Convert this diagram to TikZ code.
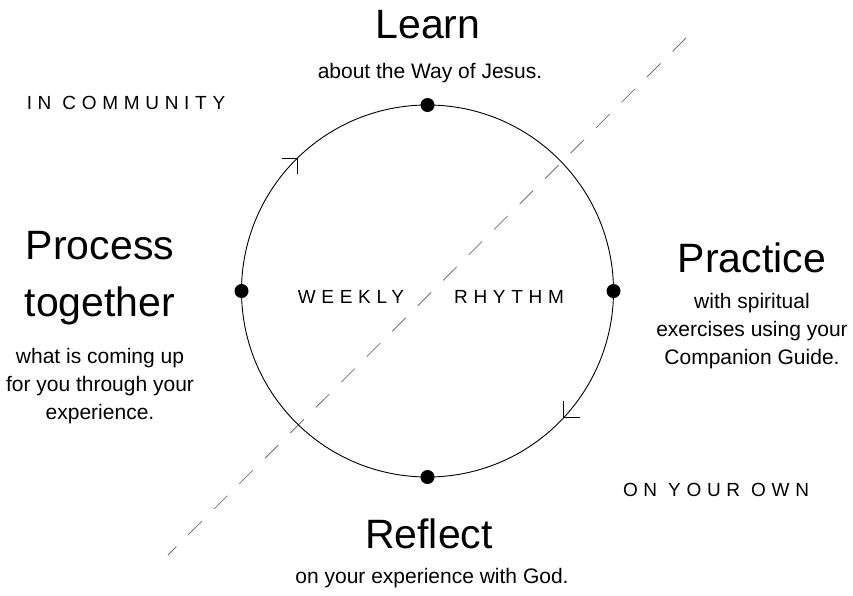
\documentclass[tikz,border=0pt]{standalone}
\usepackage{fontspec}
\setmainfont{Liberation Sans}
\newfontfamily\spacedfont[LetterSpace=30]{Liberation Sans}
\begin{document}
\begin{tikzpicture}[x=1pt,y=-1pt,
  head/.style={font=\fontsize{41}{46}\selectfont, inner sep=0pt, align=center},
  body/.style={font=\fontsize{21}{28}\selectfont, inner sep=0pt, align=center},
  caps/.style={font=\fontsize{19}{22}\spacedfont, inner sep=0pt},
  dot/.style={circle, fill=black, minimum size=14pt, inner sep=0pt},
  chev/.style={draw=black, line width=0.8pt},
  dashline/.style={draw=black!55, line width=0.8pt, dash pattern=on 19pt off 17pt}]
\useasboundingbox (0,0) rectangle (853,595);
\fill[white] (0,0) rectangle (853,595);
% dashed diagonal
\coordinate (dA) at (686,38);
\coordinate (dB) at (168,555);
\draw[dashline] (dA) -- (dB);
% circle
\coordinate (c) at (427.5,291);
\draw[line width=0.9pt] (c) circle (186);
% dots
\node[dot] (top) at (427.5,105) {};
\node[dot] (right) at (613.5,291) {};
\node[dot] (bottom) at (427.5,477) {};
\node[dot] (left) at (241.5,291) {};
% arrowheads
\coordinate (t1) at (297.5,158);
\coordinate (t2) at (563.5,417);
\draw[chev] ([xshift=-16pt]t1) -- (t1) -- ([yshift=-16pt]t1);
\draw[chev] ([yshift=16pt]t2) -- (t2) -- ([xshift=16pt]t2);
% texts
\node[head] (learn) at (428,25) {Learn};
\node[body] (learnsub) at (430,73) {about the Way of Jesus.};
\node[caps] (comm) at (126,103) {IN COMMUNITY};
\node[caps] (weekly) at (351,297) {WEEKLY};
\node[caps] (rhythm) at (509,297) {RHYTHM};
\node[head, font=\fontsize{41}{57}\selectfont] (process) at (100,278) {Process\\together};
\node[body] (processsub) at (100,386) {what is coming up\\for you through your\\experience.};
\node[head] (practice) at (752,258) {Practice};
\node[body] (practicesub) at (752,331) {with spiritual\\exercises using your\\Companion Guide.};
\node[caps] (own) at (716,490) {ON YOUR OWN};
\node[head] (reflect) at (429,534) {Reflect};
\node[body] (reflectsub) at (432,578) {on your experience with God.};
\end{tikzpicture}
\end{document}
